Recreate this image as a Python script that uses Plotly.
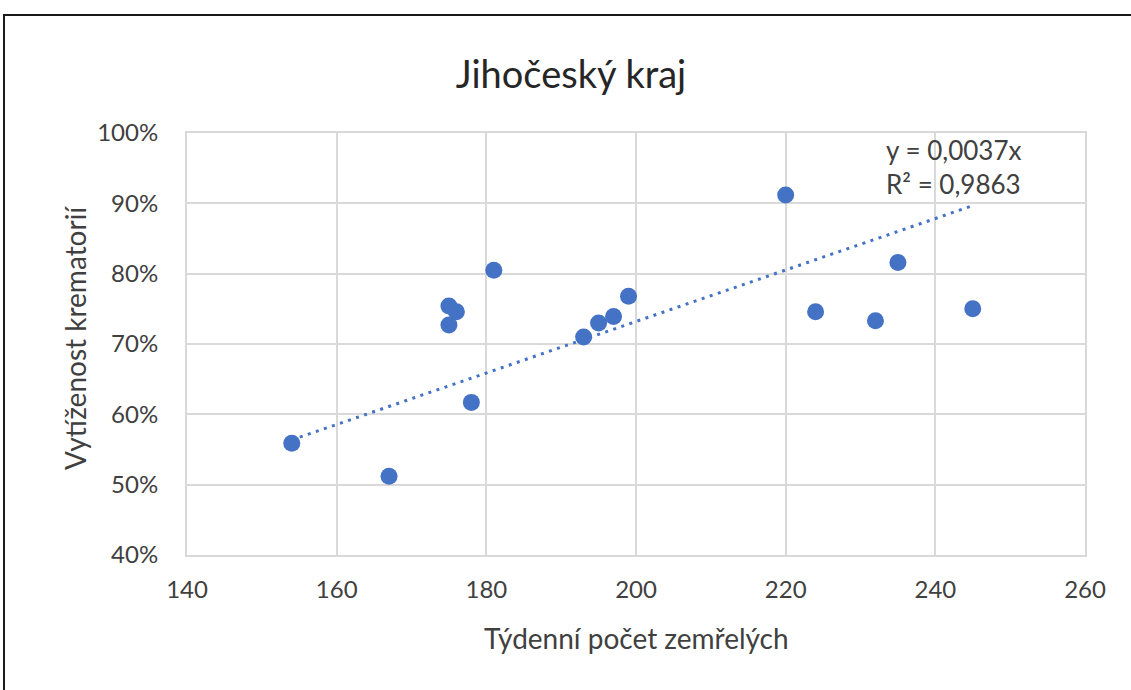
import plotly.graph_objects as go

# weekly deaths vs crematorium utilisation (South Bohemian region)
deaths = [154, 167, 175, 175, 176, 178, 181, 193, 195, 197, 199, 220, 224, 232, 235, 245]
utilisation = [0.559, 0.512, 0.754, 0.727, 0.746, 0.617, 0.805, 0.710, 0.730, 0.739, 0.768,
               0.912, 0.746, 0.733, 0.816, 0.750]

# linear trend through origin as shown in the chart label
trend_slope = 0.00366
trend_x = [min(deaths), max(deaths)]
trend_y = [trend_slope * x for x in trend_x]

x_ticks = [140, 160, 180, 200, 220, 240, 260]
y_ticks = [0.4, 0.5, 0.6, 0.7, 0.8, 0.9, 1.0]

BLUE = "#4472C4"
GRID = "#d9d9d9"
TEXT = "#404040"
FONT = "Lato, 'Open Sans', sans-serif"

W, H = 1131, 690
L, R, T, B = 187, 46, 133, 135
pw, ph = W - L - R, H - T - B


def px_x(px):
    return (px - L) / pw


def px_y(py):
    return (H - B - py) / ph


fig = go.Figure()

fig.add_trace(go.Scatter(
    x=trend_x, y=trend_y, mode="lines",
    line=dict(color=BLUE, width=3, dash="3px,5.5px"),
    hoverinfo="skip", showlegend=False,
))

fig.add_trace(go.Scatter(
    x=deaths, y=utilisation, mode="markers",
    marker=dict(color=BLUE, size=17, line=dict(width=0)),
    showlegend=False,
))

fig.update_xaxes(
    range=[140, 260], tickvals=x_ticks, showgrid=True, gridcolor=GRID, gridwidth=2,
    zeroline=False, showline=True, linecolor=GRID, linewidth=2, mirror=True,
    ticks="", ticklabelstandoff=12, tickfont=dict(size=24, color=TEXT, family=FONT),
)
fig.update_yaxes(
    range=[0.4, 1.0], tickvals=y_ticks, tickformat=".0%", showgrid=True, gridcolor=GRID,
    gridwidth=2, zeroline=False, showline=True, linecolor=GRID, linewidth=2, mirror=True,
    ticks="", ticklabelstandoff=22, tickfont=dict(size=24, color=TEXT, family=FONT),
)

# axis titles
fig.add_annotation(
    x=0.5, y=px_y(638), xref="paper", yref="paper", xanchor="center", yanchor="middle",
    showarrow=False, text="Týdenní počet zemřelých",
    font=dict(size=28, color=TEXT, family=FONT),
)
fig.add_annotation(
    x=px_x(75), y=px_y(338), xref="paper", yref="paper", xanchor="center", yanchor="middle",
    textangle=-90, showarrow=False, text="Vytíženost krematorií",
    font=dict(size=28, color=TEXT, family=FONT),
)

# equation label
fig.add_annotation(
    x=px_x(884), y=px_y(167), xref="paper", yref="paper",
    xanchor="left", yanchor="middle", align="left", showarrow=False,
    text="y = 0,0037x<br>R² = 0,9863",
    font=dict(size=26, color=TEXT, family=FONT),
)

# outer chart frame
fig.add_shape(
    type="rect", xref="paper", yref="paper",
    x0=px_x(4), x1=px_x(1136), y0=px_y(700), y1=px_y(15),
    line=dict(color="#1a1a1a", width=2), fillcolor="rgba(0,0,0,0)", layer="below",
)

fig.update_layout(
    width=W, height=H,
    margin=dict(l=L, r=R, t=T, b=B),
    paper_bgcolor="white", plot_bgcolor="white",
    title=dict(text="Jihočeský kraj", x=571 / W, xanchor="center", y=1 - 75 / H, yanchor="middle",
               font=dict(size=38, color="#262626", family=FONT)),
    font=dict(family=FONT),
)

# page body has a default margin; remove it so the figure sits at the window origin
fig.write_html("out.html", config={"displayModeBar": False},
               post_script="document.body.style.margin='0';")
